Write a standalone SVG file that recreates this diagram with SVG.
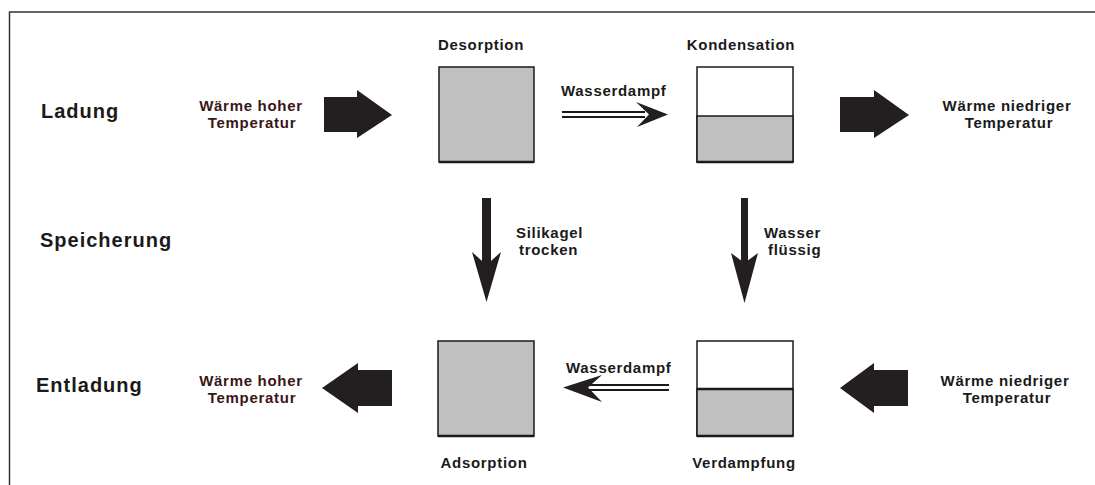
<svg xmlns="http://www.w3.org/2000/svg" width="1095" height="485" viewBox="0 0 1095 485">
<style>
.t{font-family:"Liberation Sans",Arial,sans-serif;font-weight:bold;fill:#1a1a1a}
.big{font-size:20px;letter-spacing:1px}
.sm{font-size:15px;letter-spacing:0.7px}
.brown{fill:#3a1616}
.box{fill:#c0c0c0;stroke:#1a1a1a;stroke-width:1.5}
.wbox{fill:#ffffff;stroke:#1a1a1a;stroke-width:1.5}
.blk{fill:#231f20}
.dl{stroke:#1a1a1a;stroke-width:2.2;fill:none}
</style>
<rect width="1095" height="485" fill="#ffffff"/>
<g id="frame">
<path d="M9.5 485 V12 H1095" fill="none" stroke="#333" stroke-width="1.5"/>
</g>
<g id="row-labels">
<text class="t big" x="41" y="118">Ladung</text>
<text class="t big" x="40" y="247">Speicherung</text>
<text class="t big" x="36" y="392">Entladung</text>
</g>
<g id="heat-high-in">
<text class="t sm brown" x="251" y="111" text-anchor="middle">Wärme hoher</text>
<text class="t sm brown" x="252" y="128" text-anchor="middle">Temperatur</text>
</g>
<g id="heat-low-out">
<text class="t sm" x="1007" y="111" text-anchor="middle">Wärme niedriger</text>
<text class="t sm" x="1009" y="128" text-anchor="middle">Temperatur</text>
</g>
<g id="heat-high-out">
<text class="t sm brown" x="251" y="386" text-anchor="middle">Wärme hoher</text>
<text class="t sm brown" x="252" y="403" text-anchor="middle">Temperatur</text>
</g>
<g id="heat-low-in">
<text class="t sm" x="1005" y="386" text-anchor="middle">Wärme niedriger</text>
<text class="t sm" x="1007" y="403" text-anchor="middle">Temperatur</text>
</g>
<g id="desorption">
<text class="t sm" x="481" y="50" text-anchor="middle">Desorption</text>
<rect class="box" x="439" y="67" width="95" height="95"/>
<line x1="439" y1="162" x2="534" y2="162" stroke="#1a1a1a" stroke-width="2.5"/>
</g>
<g id="kondensation">
<text class="t sm" x="741" y="50" text-anchor="middle">Kondensation</text>
<rect class="wbox" x="697" y="67" width="96" height="95"/>
<rect class="box" x="697" y="116" width="96" height="46"/>
<line x1="697" y1="162" x2="793" y2="162" stroke="#1a1a1a" stroke-width="2.5"/>
</g>
<g id="adsorption">
<rect class="box" x="438" y="341" width="96" height="95"/>
<line x1="438" y1="436" x2="534" y2="436" stroke="#1a1a1a" stroke-width="2.5"/>
<text class="t sm" x="484" y="468" text-anchor="middle">Adsorption</text>
</g>
<g id="verdampfung">
<rect class="wbox" x="697" y="341" width="96" height="95"/>
<rect class="box" x="697" y="389" width="96" height="47"/>
<line x1="697" y1="389" x2="793" y2="389" stroke="#1a1a1a" stroke-width="2.5"/>
<line x1="697" y1="436" x2="793" y2="436" stroke="#1a1a1a" stroke-width="2.5"/>
<text class="t sm" x="744" y="468" text-anchor="middle">Verdampfung</text>
</g>
<g id="connectors">
<path class="blk" d="M324 97 H357 V90 L392 115 L357 138 V132 H324 Z"/>
<path class="blk" d="M840 97 H874 V90 L909 115 L874 138 V132 H840 Z"/>
<path class="blk" d="M392 370 H358 V363 L322 388 L358 413 V406 H392 Z"/>
<path class="blk" d="M908 370 H874 V363 L840 388 L874 413 V406 H908 Z"/>
<line class="dl" x1="562" y1="112" x2="645" y2="112"/>
<line class="dl" x1="562" y1="117" x2="645" y2="117"/>
<path class="blk" d="M668 114.5 L636 102 L649 114.5 L637 127 Z"/>
<text class="t sm" x="561" y="96">Wasserdampf</text>
<line class="dl" x1="586" y1="385" x2="669" y2="385"/>
<line class="dl" x1="586" y1="390" x2="669" y2="390"/>
<path class="blk" d="M563 387.5 L602 375 L588 387.5 L602 402 Z"/>
<text class="t sm" x="566" y="373">Wasserdampf</text>
<rect class="blk" x="482" y="198" width="9" height="70"/>
<path class="blk" d="M486.5 302 L472 252 L486.5 265 L501 252 Z"/>
<text class="t sm" x="516" y="238">Silikagel</text>
<text class="t sm" x="519" y="255">trocken</text>
<rect class="blk" x="741" y="198" width="7" height="70"/>
<path class="blk" d="M744.5 303 L731 253 L744.5 263 L758 253 Z"/>
<text class="t sm" x="764" y="238">Wasser</text>
<text class="t sm" x="768" y="255">flüssig</text>
</g>
</svg>
